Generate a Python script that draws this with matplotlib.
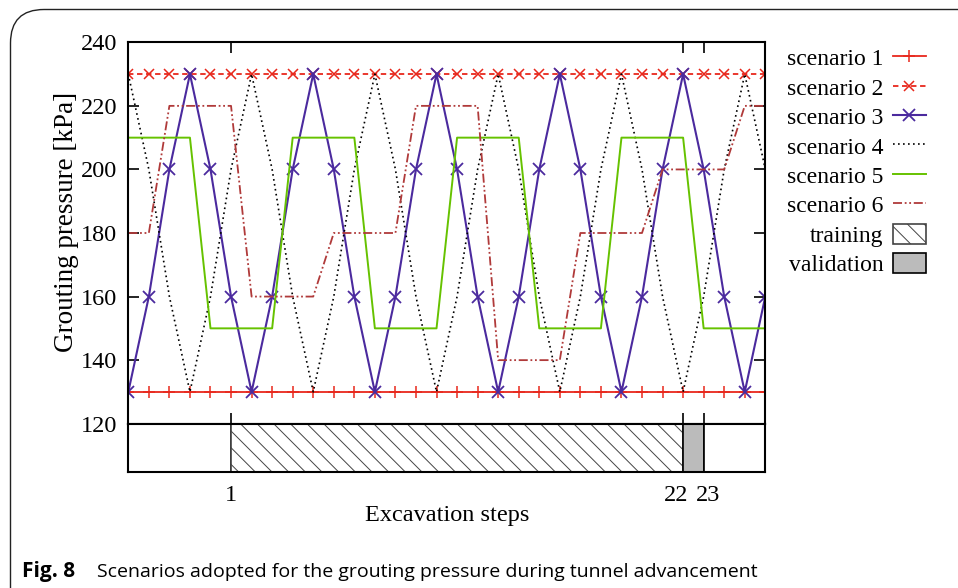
import matplotlib
matplotlib.use('Agg')
import matplotlib.pyplot as plt
from matplotlib.patches import FancyBboxPatch
from matplotlib.transforms import ScaledTranslation

plt.rcParams['font.family'] = ['Liberation Serif', 'DejaVu Serif']
plt.rcParams['hatch.linewidth'] = 0.7

# excavation step index along the x axis
steps = list(range(32))

# grouting pressure scenarios [kPa]
scenario1 = [130] * 32
scenario2 = [230] * 32
scenario3 = [130, 160, 200, 230, 200, 160] * 5 + [130, 160]
scenario4 = [230, 200, 160, 130, 160, 200] * 5 + [230, 200]
scenario5 = ([210] * 4 + [150] * 4) * 4
scenario6 = ([180] * 2 + [220] * 4 + [160] * 4 + [180] * 4 + [220] * 4
             + [140] * 4 + [180] * 4 + [200] * 4 + [220] * 2)

# bottom band: phases of the excavation
phase_start = [0, 5, 27, 28]
phase_end = [5, 27, 28, 31]
phase_name = ['', 'training', 'validation', '']

tick_pos = [5, 27, 28]
tick_lab = ['1', '22', '23']

red = '#e8281c'
purple = '#4b2a9e'
green = '#66c200'
brown = '#b03a3a'
fs = 17.5

fig = plt.figure(figsize=(9.58, 5.88), dpi=100)

# frame of the figure box (rounded corner, cut by the page)
fig.patches.append(FancyBboxPatch((10.5 / 958, -0.2), 1.2, 1.2 - 9.5 / 588,
                                  boxstyle='round,pad=0,rounding_size=0.035',
                                  transform=fig.transFigure, fill=False,
                                  ec='#222222', lw=1.0, mutation_aspect=958 / 588))

ax = fig.add_axes([128.3 / 958, 1 - 423.7 / 588, 637 / 958, 381.4 / 588])
axb = fig.add_axes([128.3 / 958, 1 - 472.3 / 588, 637 / 958, 48.6 / 588])

ax.plot(steps, scenario1, color=red, lw=1.3, marker='+', ms=9, mew=1.1, label='scenario 1')
ax.plot(steps, scenario2, color=red, lw=1.3, ls=(0, (3, 2)), marker='x', ms=6.5, mew=1.1,
        label='scenario 2')
ax.plot(steps, scenario3, color=purple, lw=1.5, marker='x', ms=8, mew=1.3, label='scenario 3')
ax.plot(steps, scenario4, color='black', lw=1.2, ls=(0, (1, 2)), label='scenario 4')
ax.plot(steps, scenario5, color=green, lw=1.4, label='scenario 5')
ax.plot(steps, scenario6, color=brown, lw=1.3, ls=(0, (5, 1.5, 1, 1.5, 1, 1.5)),
        label='scenario 6')

ax.set_xlim(0, 31)
ax.set_ylim(120, 240)
ax.set_yticks(range(120, 241, 20))
ax.set_xticks(tick_pos)
ax.set_xticklabels([])
ax.tick_params(direction='in', length=8, width=1.2, top=True, right=True,
               labelsize=fs, pad=8)
ax.set_ylabel('Grouting pressure [kPa]', fontsize=19.5)
ax.yaxis.set_label_coords(-0.077, 0.53)
for s in ax.spines.values():
    s.set_linewidth(1.5)

# training / validation band
for a, b, n in zip(phase_start, phase_end, phase_name):
    if n == 'training':
        axb.bar(a, 1, width=b - a, align='edge', color='white', edgecolor='#444444',
                hatch='\\\\', lw=1.2, label=n)
    elif n == 'validation':
        axb.bar(a, 1, width=b - a, align='edge', color='#bbbbbb', edgecolor='black',
                lw=1.2, label=n)
    else:
        axb.bar(a, 1, width=b - a, align='edge', color='white', edgecolor='black', lw=1.2)
axb.set_xlim(0, 31)
axb.set_ylim(0, 1)
axb.set_yticks([])
axb.set_xticks(tick_pos)
axb.set_xticklabels(tick_lab)
axb.tick_params(length=0, labelsize=fs, pad=9.5)
# the two close labels are pushed apart a little, as in the original
shifts = [0, -7, 4]
for lab, dx in zip(axb.get_xticklabels(), shifts):
    lab.set_transform(lab.get_transform() + ScaledTranslation(dx / 100, 0, fig.dpi_scale_trans))
axb.set_xlabel('Excavation steps', fontsize=fs, labelpad=-1)
for s in axb.spines.values():
    s.set_linewidth(1.5)

h1, l1 = ax.get_legend_handles_labels()
h2, l2 = axb.get_legend_handles_labels()
fig.legend(h1 + h2, l1 + l2, loc='upper right', bbox_to_anchor=(926 / 958, 1 - 47 / 588),
           frameon=False, markerfirst=False, fontsize=17, handlelength=1.4,
           handleheight=0.95, handletextpad=0.4, labelspacing=0.26, borderpad=0,
           borderaxespad=0)

fig.text(22 / 958, 1 - 572 / 588, 'Fig. 8', fontsize=15, fontweight='bold',
         family=['Open Sans', 'DejaVu Sans'], va='center')
fig.text(97 / 958, 1 - 572 / 588,
         'Scenarios adopted for the grouting pressure during tunnel advancement',
         fontsize=14, family=['Open Sans', 'DejaVu Sans'], va='center')

fig.savefig('out.png', dpi=100)
